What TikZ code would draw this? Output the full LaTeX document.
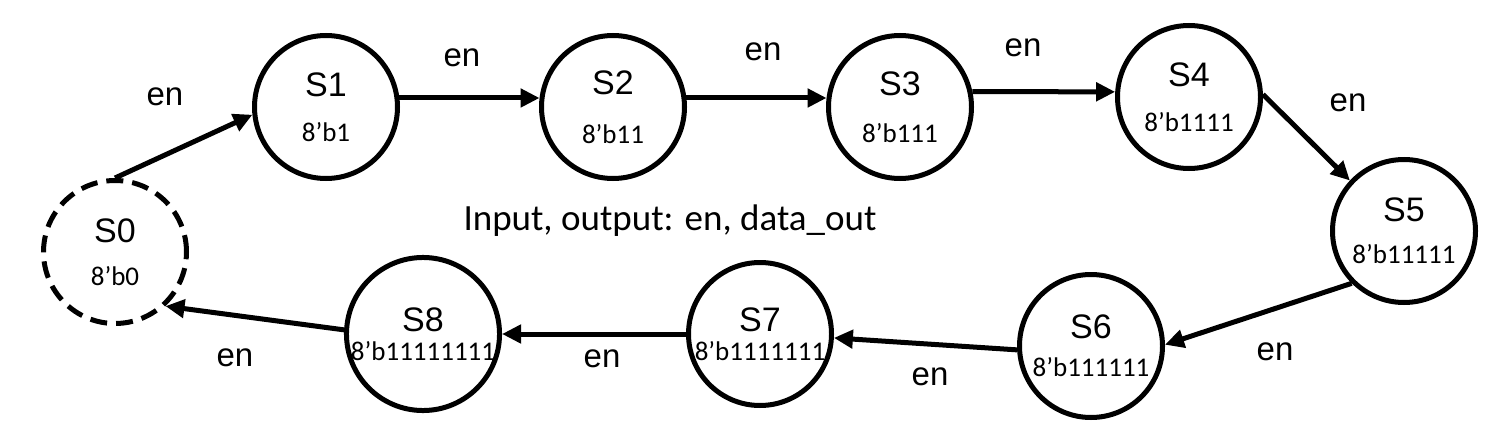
\documentclass[tikz,border=0pt]{standalone}
\usepackage{fontspec}
\setmainfont{Liberation Sans}
\newfontfamily\valfont{Carlito}
\usetikzlibrary{arrows.meta}

\tikzset{
	state/.style={circle,draw,line width=5pt,minimum size=143pt,inner sep=0pt,
		align=center,font=\fontsize{27}{45}\valfont},
	tight/.style={font=\fontsize{27}{29}\valfont},
	trans/.style={line width=5pt,-{Triangle[length=19pt,width=18pt]}},
	cond/.style={font=\fontsize{33}{33}\selectfont,inner sep=0pt},
}
\newcommand{\sname}[1]{{\fontsize{34}{34}\rmfamily #1}}

\begin{document}
\begin{tikzpicture}[x=1pt,y=-1pt]
	\useasboundingbox (0,0) rectangle (1508,436);
	% states
	\node[state,dash pattern=on 17pt off 9pt,font=\fontsize{27}{43}\valfont] (s0) at (115,252) {\sname{S0}\\8’b0};
	\node[state] (s1) at (326,107) {\sname{S1}\\8’b1};
	\node[state,font=\fontsize{27}{49}\valfont] (s2) at (613,107) {\sname{S2}\\8’b11};
	\node[state,font=\fontsize{27}{47}\valfont] (s3) at (900,107) {\sname{S3}\\8’b111};
	\node[state] (s4) at (1189,97) {\sname{S4}\\8’b1111};
	\node[state,font=\fontsize{27}{42}\valfont] (s5) at (1404,231) {\sname{S5}\\8’b11111};
	\node[state,font=\fontsize{27}{38}\valfont] (s6) at (1091,346) {\sname{S6}\\8’b111111};
	\node[state,tight] (s7) at (760,334) {\sname{S7}\\8’b1111111};
	\node[state,tight] (s8) at (423,334) {\sname{S8}\\8’b11111111};
	% transitions
	\draw[trans] (s0.north) -- (s1.186);
	\draw[trans] (s1.7) -- (s2.173);
	\draw[trans] (s2.7) -- (s3.173);
	\draw[trans] (s3.12) -- (s4.176);
	\draw[trans] (s4.2) -- (s5.137);
	\draw[trans] (s5.225) -- (s6.1);
	\draw[trans] (s6.183) -- (s7.357);
	\draw[trans] (s7.180) -- (s8.0);
	\draw[trans] (s8.177) -- (s0.313);
	% labels
	\node[cond] (e01) at (165,97) {en};
	\node[cond] (e12) at (462,58) {en};
	\node[cond] (e23) at (763,52) {en};
	\node[cond] (e34) at (1023,48) {en};
	\node[cond] (e45) at (1348,103) {en};
	\node[cond] (e56) at (1275,352) {en};
	\node[cond] (e67) at (930,377) {en};
	\node[cond] (e78) at (602,359) {en};
	\node[cond] (e80) at (235,358) {en};
	\node[font=\fontsize{37}{37}\valfont,anchor=base] (io) at (670,230) {Input, output: en, data\_out};
\end{tikzpicture}
\end{document}
